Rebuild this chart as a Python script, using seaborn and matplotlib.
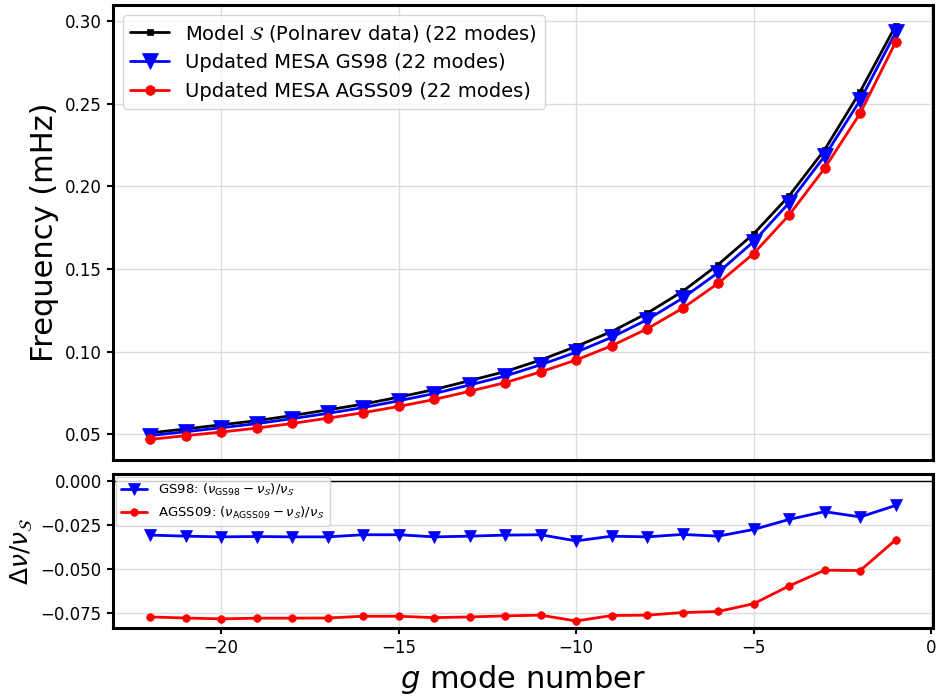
import numpy as np
import pandas as pd
import matplotlib
matplotlib.use("Agg")
import matplotlib.pyplot as plt
from matplotlib.ticker import MultipleLocator
import seaborn as sns

# ---- data ----
modes = [-22, -21, -20, -19, -18, -17, -16, -15, -14, -13, -12,
         -11, -10, -9, -8, -7, -6, -5, -4, -3, -2, -1]
freq_model_s = [0.0509, 0.0533, 0.0558, 0.0583, 0.0614, 0.0648, 0.0683, 0.0725,
                0.0771, 0.0825, 0.0880, 0.0950, 0.1032, 0.1122, 0.1233, 0.1365,
                0.1527, 0.1713, 0.1943, 0.2222, 0.2573, 0.2972]
freq_gs98 = [0.0493, 0.0516, 0.0540, 0.0565, 0.0595, 0.0627, 0.0662, 0.0703,
             0.0747, 0.0799, 0.0853, 0.0921, 0.0997, 0.1087, 0.1194, 0.1324,
             0.1479, 0.1666, 0.1901, 0.2183, 0.2521, 0.2931]
freq_agss09 = [0.0470, 0.0492, 0.0514, 0.0538, 0.0566, 0.0598, 0.0631, 0.0669,
               0.0711, 0.0761, 0.0813, 0.0878, 0.0950, 0.1036, 0.1139, 0.1263,
               0.1414, 0.1594, 0.1827, 0.2110, 0.2442, 0.2873]
rel_gs98 = [-0.0307, -0.0313, -0.0317, -0.0315, -0.0317, -0.0317, -0.0305, -0.0305,
            -0.0317, -0.0313, -0.0307, -0.0305, -0.0340, -0.0313, -0.0317, -0.0303,
            -0.0313, -0.0275, -0.0218, -0.0174, -0.0204, -0.0139]
rel_agss09 = [-0.0771, -0.0777, -0.0782, -0.0778, -0.0778, -0.0777, -0.0767, -0.0767,
              -0.0775, -0.0771, -0.0765, -0.0761, -0.0794, -0.0763, -0.0761, -0.0746,
              -0.0740, -0.0696, -0.0595, -0.0506, -0.0508, -0.0334]

label_s = r'Model $\mathcal{S}$ (Polnarev data) (22 modes)'
label_gs = 'Updated MESA GS98 (22 modes)'
label_ag = 'Updated MESA AGSS09 (22 modes)'
label_rel_gs = r'GS98: $(\nu_{\rm GS98} - \nu_\mathcal{S})/\nu_\mathcal{S}$'
label_rel_ag = r'AGSS09: $(\nu_{\rm AGSS09} - \nu_\mathcal{S})/\nu_\mathcal{S}$'

df = pd.DataFrame({"n": modes, "S": freq_model_s, "GS98": freq_gs98,
                   "AGSS09": freq_agss09, "dGS": rel_gs98, "dAG": rel_agss09})

# ---- style ----
sns.set_style("whitegrid", {
    "axes.edgecolor": "black",
    "axes.labelcolor": "black",
    "text.color": "black",
    "grid.color": "#dcdcdc",
    "xtick.bottom": True,
    "ytick.left": True,
    "xtick.color": "black",
    "ytick.color": "black",
})
plt.rcParams.update({
    "font.family": ["DejaVu Sans"],
    "axes.linewidth": 2.2,
    "xtick.major.size": 4.5,
    "ytick.major.size": 4.5,
    "xtick.major.width": 1.5,
    "ytick.major.width": 1.5,
    "xtick.color": "black",
    "ytick.color": "black",
    "text.color": "black",
    "axes.labelcolor": "black",
    "grid.linewidth": 1.0,
    "mathtext.fontset": "dejavusans",
})

fig = plt.figure(figsize=(9.36, 6.97), dpi=100)
ax1 = fig.add_axes([0.1207, 0.340, 0.876, 0.6528])
ax2 = fig.add_axes([0.1207, 0.099, 0.876, 0.221], sharex=ax1)

sns.lineplot(data=df, x="n", y="S", ax=ax1, color="black", marker="s",
             markersize=4.5, mec="black", mew=0.5, lw=2, label=label_s)
sns.lineplot(data=df, x="n", y="GS98", ax=ax1, color="blue", marker="v",
             markersize=11, mec="blue", mew=0.5, lw=2, label=label_gs)
sns.lineplot(data=df, x="n", y="AGSS09", ax=ax1, color="red", marker="o",
             markersize=7, mec="red", mew=0.5, lw=2, label=label_ag)

ax2.axhline(0, color="black", lw=1)
sns.lineplot(data=df, x="n", y="dGS", ax=ax2, color="blue", marker="v",
             markersize=8, mec="blue", mew=0.5, lw=2, label=label_rel_gs)
sns.lineplot(data=df, x="n", y="dAG", ax=ax2, color="red", marker="o",
             markersize=5.5, mec="red", mew=0.5, lw=2, label=label_rel_ag)

ax1.set_ylabel("Frequency (mHz)", fontsize=22)
ax1.set_xlabel("")
ax1.tick_params(axis="x", labelbottom=False, bottom=False)
ax1.tick_params(axis="y", labelsize=12)
leg1 = ax1.legend(loc="upper left", fontsize=14, frameon=True, framealpha=0.8)

ax2.set_xlabel(r"$g$ mode number", fontsize=22)
ax2.set_ylabel(r"$\Delta\nu/\nu_\mathcal{S}$", fontsize=18)
ax2.yaxis.set_major_locator(MultipleLocator(0.025))
ax2.tick_params(axis="both", labelsize=12)
leg2 = ax2.legend(loc="upper left", fontsize=9.5, frameon=True, framealpha=0.8,
                  borderaxespad=0.2)
for leg in (leg1, leg2):
    for t in leg.get_texts():
        t.set_color("black")

for ax in (ax1, ax2):
    for sp in ax.spines.values():
        sp.set_color("black")
        sp.set_linewidth(2.2)

fig.savefig("out.png", dpi=100)
